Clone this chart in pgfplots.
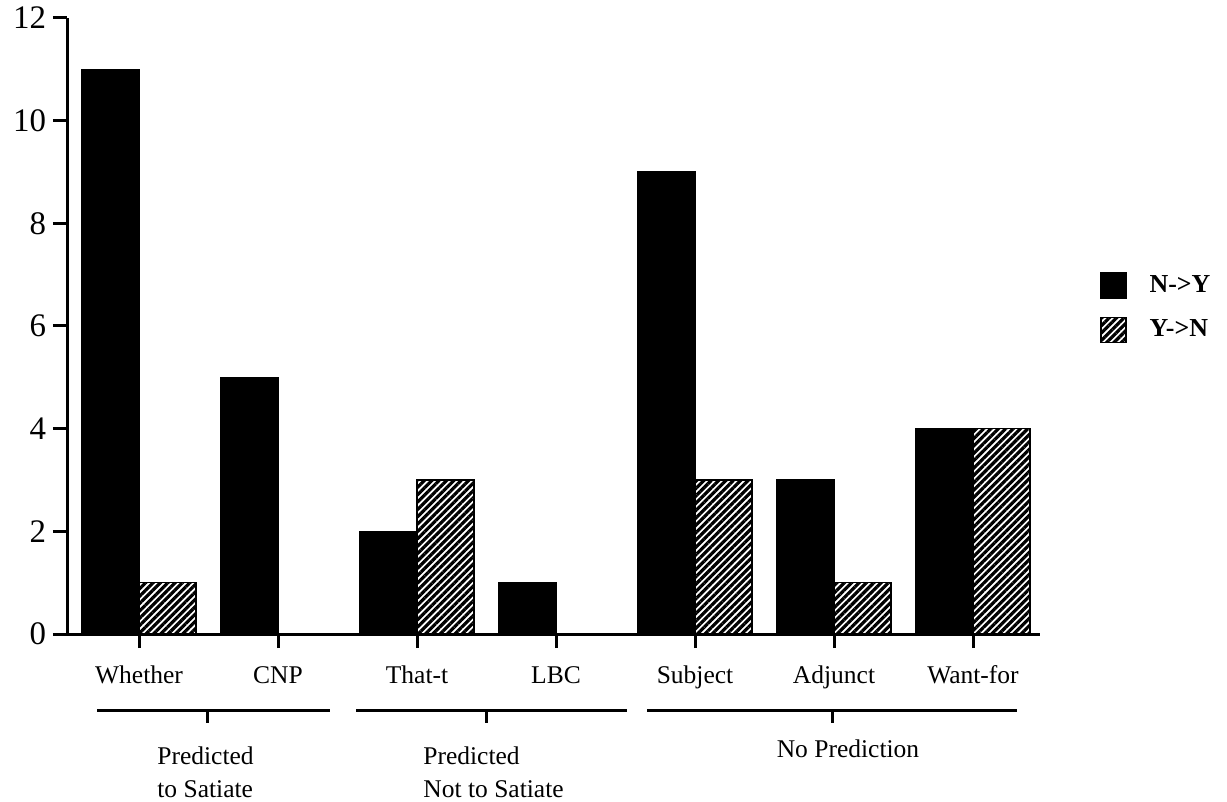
\documentclass[border=0pt]{standalone}
\usepackage{fontspec}
\setmainfont{Liberation Serif}
\usepackage{pgfplots}
\pgfplotsset{compat=1.18}
\usetikzlibrary{patterns.meta}

\pgfplotsset{boxlegend/.style={legend image code/.code={\draw[##1] (0bp,-6.25bp) rectangle (12.5bp,6.25bp);}}}

\begin{document}
\begin{tikzpicture}
\begin{axis}[
  at={(0,0)}, anchor=south west,
  scale only axis,
  width=486.5bp, height=308bp,
  xmin=-0.518, xmax=6.482,
  ymin=0, ymax=12,
  ytick={0,2,...,12},
  xtick={0,...,6},
  xticklabels={Whether, CNP, That-t, LBC, Subject, Adjunct, Want-for},
  axis x line*=bottom, axis y line*=left,
  axis line style={-, line width=1.5bp},
  tick style={line width=1.5bp, black},
  tick align=outside,
  major tick length=7bp,
  ybar=0pt, bar width=28.5bp,
  /pgf/number format/assume math mode=true,
  yticklabel style={font=\fontsize{16.5}{18}\selectfont},
  xticklabel style={font=\fontsize{12.8}{14}\selectfont, yshift=-5bp,
    text height=9bp, text depth=3bp},
  clip=false,
  legend style={draw=none, fill=none, at={(1.0617,0.530)}, anchor=west,
    inner sep=0pt, row sep=9bp, nodes={inner sep=0pt},
    font=\bfseries\fontsize{13}{15}\selectfont,
    /tikz/every odd column/.append style={column sep=11.5bp}},
  legend cell align=left,
]
\addplot[draw=black, line width=0.6bp, fill=black, boxlegend]
  coordinates {(0,11) (1,5) (2,2) (3,1) (4,9) (5,3) (6,4)};
\addlegendentry{N->Y}
\addplot[draw=black, line width=0.6bp, fill=white,
  postaction={pattern={Lines[angle=45, distance=2.6bp, line width=1.6bp]}, pattern color=black},
  boxlegend]
  coordinates {(0,1) (1,0) (2,3) (3,0) (4,3) (5,1) (6,4)};
\addlegendentry{Y->N}
\end{axis}
% group brackets
\begin{scope}[line width=1.5bp]
\draw (15bp,-38bp) -- (131.5bp,-38bp);
\draw (70bp,-38bp) -- (70bp,-44.5bp);
\draw (144.5bp,-38bp) -- (280bp,-38bp);
\draw (209.5bp,-38bp) -- (209.5bp,-44.5bp);
\draw (290bp,-38bp) -- (475bp,-38bp);
\draw (382.5bp,-38bp) -- (382.5bp,-44.5bp);
\end{scope}
\begin{scope}[every node/.style={font=\fontsize{12.8}{14}\selectfont, inner sep=0pt}]
\node[anchor=base west] at (45bp,-65bp) {Predicted};
\node[anchor=base west] at (45bp,-81.5bp) {to Satiate};
\node[anchor=base west] at (178bp,-65bp) {Predicted};
\node[anchor=base west] at (178bp,-81.5bp) {Not to Satiate};
\node[anchor=base] at (390.5bp,-61.5bp) {No Prediction};
\end{scope}
\path[use as bounding box] (-33.5bp,-84bp) rectangle (580bp,317bp);
\end{tikzpicture}
\end{document}
